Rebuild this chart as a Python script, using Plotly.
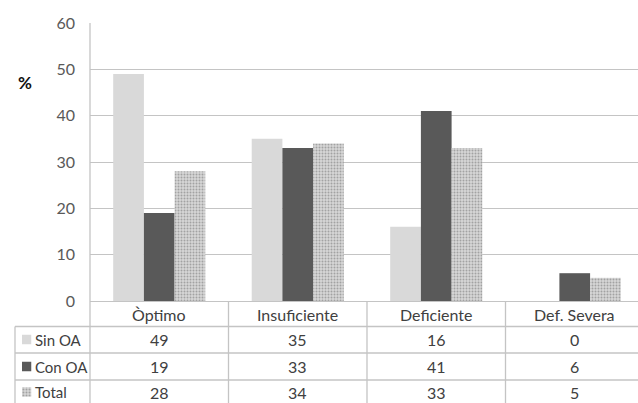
import plotly.graph_objects as go

# Data
categories = ["Òptimo", "Insuficiente", "Deficiente", "Def. Severa"]
series_names = ["Sin OA", "Con OA", "Total"]
sin_oa = [49, 35, 16, 0]
con_oa = [19, 33, 41, 6]
total = [28, 34, 33, 5]
y_ticks = [0, 10, 20, 30, 40, 50, 60]

W, H = 638, 403
PLOT_LEFT = 90  # px where the plot area begins

def px_x(px):
    """Pixel x -> paper x."""
    return px / W

def px_y(py):
    """Pixel y -> paper y."""
    return 1 - py / H

FONT = "Lato"
GRID = "#c4c4c4"
TXT = "#404040"
TABLE_SIZE = 16

x_pos = list(range(len(categories)))
series_vals = [sin_oa, con_oa, total]
series_fill = ["#d9d9d9", "#595959", "#d6d6d6"]
pattern = dict(shape=".", fgcolor="#6e6e6e", bgcolor="#d6d6d6", size=3, solidity=0.33)

fig = go.Figure()
for name, vals, col in zip(series_names, series_vals, series_fill):
    marker = dict(color=col, line=dict(width=0))
    if name == "Total":
        marker["pattern"] = pattern
    fig.add_trace(go.Bar(x=x_pos, y=vals, name=name, marker=marker,
                         showlegend=False, hoverinfo="skip"))

# Row geometry of the data table below the plot (px)
row_centers_px = [339.5, 366.5, 392]
header_center_px = 314
h_lines_px = [326.5, 353, 380]

# Legend swatches inside the table, drawn as tiny bars on their own axes
sw_y = [px_y(p) for p in row_centers_px]
for name, col, yy in zip(series_names, series_fill, sw_y):
    marker = dict(color=col, line=dict(width=0))
    if name == "Total":
        marker["pattern"] = pattern
    fig.add_trace(go.Bar(x=[1], y=[yy], orientation="h", width=9.5 / H,
                         marker=marker, xaxis="x2", yaxis="y2",
                         showlegend=False, hoverinfo="skip"))

y_bottom = px_y(301)
y_top = px_y(23)
cat_w = 138.5
x_right = -0.5 + (W - PLOT_LEFT) / cat_w

fig.update_layout(
    width=W, height=H, autosize=False,
    margin=dict(l=0, r=0, t=0, b=0, pad=0, autoexpand=False),
    paper_bgcolor="white", plot_bgcolor="white",
    barmode="group", bargap=0.335, bargroupgap=0,
    font=dict(family=FONT, size=TABLE_SIZE, color=TXT),
    xaxis=dict(domain=[px_x(PLOT_LEFT), 1], range=[-0.5, x_right],
               showticklabels=False, ticks="", automargin=False,
               showgrid=False, zeroline=False, showline=False, fixedrange=True),
    yaxis=dict(domain=[y_bottom, y_top], range=[0, 60], tickvals=y_ticks,
               showgrid=True, gridcolor=GRID, gridwidth=1.3, automargin=False,
               zeroline=True, zerolinecolor=GRID, zerolinewidth=1.3,
               showline=False, ticks="", ticklabelstandoff=14,
               tickfont=dict(family=FONT, size=16, color="#595959")),
    xaxis2=dict(domain=[px_x(22), px_x(31.5)], range=[0, 1], visible=False,
                anchor="y2", fixedrange=True),
    yaxis2=dict(domain=[0, px_y(301)], range=[0, px_y(301)], visible=False,
                anchor="x2", fixedrange=True),
    showlegend=False,
)

shapes = []
line = dict(color=GRID, width=1.3)
# vertical axis line continuing through the table
shapes.append(dict(type="line", xref="paper", yref="paper",
                   x0=px_x(PLOT_LEFT), x1=px_x(PLOT_LEFT),
                   y0=y_top, y1=0, line=line))
# table outer-left border
shapes.append(dict(type="line", xref="paper", yref="paper", x0=px_x(15), x1=px_x(15),
                   y0=px_y(h_lines_px[0]), y1=0, line=line))
# table horizontal rules
for hp in h_lines_px:
    shapes.append(dict(type="line", xref="paper", yref="paper", x0=px_x(15), x1=1,
                       y0=px_y(hp), y1=px_y(hp), line=line))
# category separators in the table
for i in range(len(categories) - 1):
    shapes.append(dict(type="line", xref="x", yref="paper", x0=i + 0.5, x1=i + 0.5,
                       y0=y_bottom, y1=0, line=line))
fig.update_layout(shapes=shapes)

ann = []
# axis title
ann.append(dict(text="<b>%</b>", xref="paper", yref="paper", x=px_x(25), y=px_y(82),
                xanchor="center", yanchor="middle",
                showarrow=False, font=dict(family=FONT, size=17, color="#111111")))
# category header row
for i, c in enumerate(categories):
    ann.append(dict(text=c, xref="x", yref="paper", x=i, y=px_y(header_center_px),
                    xanchor="center", yanchor="middle",
                    showarrow=False, font=dict(family=FONT, size=TABLE_SIZE, color=TXT)))
# row labels and values
for r, (name, vals) in enumerate(zip(series_names, series_vals)):
    yy = px_y(row_centers_px[r])
    ann.append(dict(text=name, xref="paper", yref="paper", x=px_x(33), y=yy,
                    xanchor="left", yanchor="middle", showarrow=False,
                    font=dict(family=FONT, size=15, color=TXT)))
    for i, v in enumerate(vals):
        ann.append(dict(text=str(v), xref="x", yref="paper", x=i, y=yy,
                        xanchor="center", yanchor="middle", showarrow=False,
                        font=dict(family=FONT, size=TABLE_SIZE, color=TXT)))
fig.update_layout(annotations=ann)

fig.write_html("out.html")
